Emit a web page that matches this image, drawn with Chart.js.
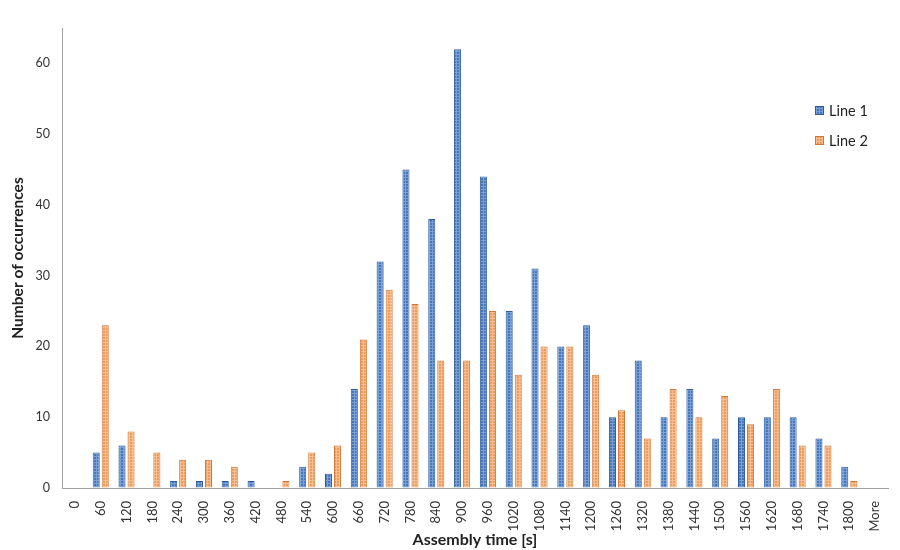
<!DOCTYPE html>
<html>
<head>
<meta charset="utf-8">
<script src="https://cdn.jsdelivr.net/npm/chart.js@4"></script>
<style>
  html, body { margin: 0; padding: 0; background: #fff; }
  #wrap { width: 900px; height: 550px; }
</style>
</head>
<body>
<div id="wrap"><canvas id="hist"></canvas></div>
<script>
// bins (upper limit, s)
const bins = ["0","60","120","180","240","300","360","420","480","540","600","660","720","780","840","900",
  "960","1020","1080","1140","1200","1260","1320","1380","1440","1500","1560","1620","1680","1740","1800","More"];
const line1 = [0,5,6,0,1,1,1,1,0,3,2,14,32,45,38,62,44,25,31,20,23,10,18,10,14,7,10,10,10,7,3,0];
const line2 = [0,23,8,5,4,4,3,0,1,5,6,21,28,26,18,18,25,16,20,20,16,11,7,14,10,13,9,14,6,6,1,0];
const seriesNames = ["Line 1", "Line 2"];

const FONT = "Lato, 'Open Sans', sans-serif";

// little Excel-like texture for the bars
function texture(base, light) {
    const c = document.createElement("canvas");
    c.width = 3; c.height = 3;
    const g = c.getContext("2d");
    g.fillStyle = base;
    g.fillRect(0, 0, 3, 3);
    g.fillStyle = light;
    g.fillRect(0, 0, 3, 1);
    g.fillRect(0, 0, 1, 3);
    return g.createPattern(c, "repeat");
}
const ctx = document.getElementById("hist").getContext("2d");
const blueFill = texture("#4677bd", "#78a0d6");
const orangeFill = texture("#ee9a58", "#f6bf93");

// legend inside the plot on the right
const sideLegend = {
    id: "sideLegend",
    afterDraw(chart) {
        const c = chart.ctx;
        const x = 815, y0 = 111, gap = 30;
        c.save();
        c.font = "14.5px " + FONT;
        c.textBaseline = "middle";
        chart.data.datasets.forEach((ds, i) => {
            const y = y0 + i * gap;
            c.fillStyle = ds.backgroundColor;
            c.fillRect(x, y - 5, 9, 9);
            c.strokeStyle = ds.borderColor;
            c.lineWidth = 1;
            c.strokeRect(x + 0.5, y - 4.5, 8, 8);
            c.fillStyle = "#222";
            c.fillText(ds.label, x + 14, y);
        });
        c.restore();
    }
};

new Chart(ctx, {
    type: "bar",
    data: {
        labels: bins,
        datasets: [
            { label: seriesNames[0], data: line1, backgroundColor: blueFill, borderColor: "#2f5c9a", borderWidth: 1 },
            { label: seriesNames[1], data: line2, backgroundColor: orangeFill, borderColor: "#d27632", borderWidth: 1 }
        ]
    },
    options: {
        responsive: true,
        maintainAspectRatio: false,
        animation: false,
        categoryPercentage: 0.7,
        barPercentage: 0.78,
        layout: { padding: { top: 28, right: 12, left: 0, bottom: 0 } },
        plugins: {
            legend: { display: false },
            tooltip: { enabled: false }
        },
        scales: {
            x: {
                grid: { display: false },
                border: { display: true, color: "#a0a0a0", width: 1 },
                ticks: {
                    minRotation: 90, maxRotation: 90, autoSkip: false, padding: 5,
                    color: "#333", font: { family: FONT, size: 13 }
                },
                title: {
                    display: true, text: "Assembly time [s]", color: "#222",
                    font: { family: FONT, size: 16, weight: "bold" }, padding: { top: 0, bottom: 1 }
                },
                afterFit(s) { s.height = 62; }
            },
            y: {
                min: 0, max: 65,
                afterBuildTicks(s) {
                    s.ticks = s.ticks.filter(t => t.value % 10 === 0);
                },
                ticks: { stepSize: 10, padding: 12, color: "#333", font: { family: FONT, size: 12.5 } },
                grid: { drawOnChartArea: false, drawTicks: false, color: "#a0a0a0" },
                border: { display: true, color: "#a0a0a0", width: 1 },
                title: {
                    display: true, text: "Number of occurrences", color: "#222",
                    font: { family: FONT, size: 15.5, weight: "bold" }, padding: { top: 9, bottom: 6 }
                },
                afterFit(s) { s.width = 62; }
            }
        }
    },
    plugins: [sideLegend]
});
</script>
</body>
</html>
